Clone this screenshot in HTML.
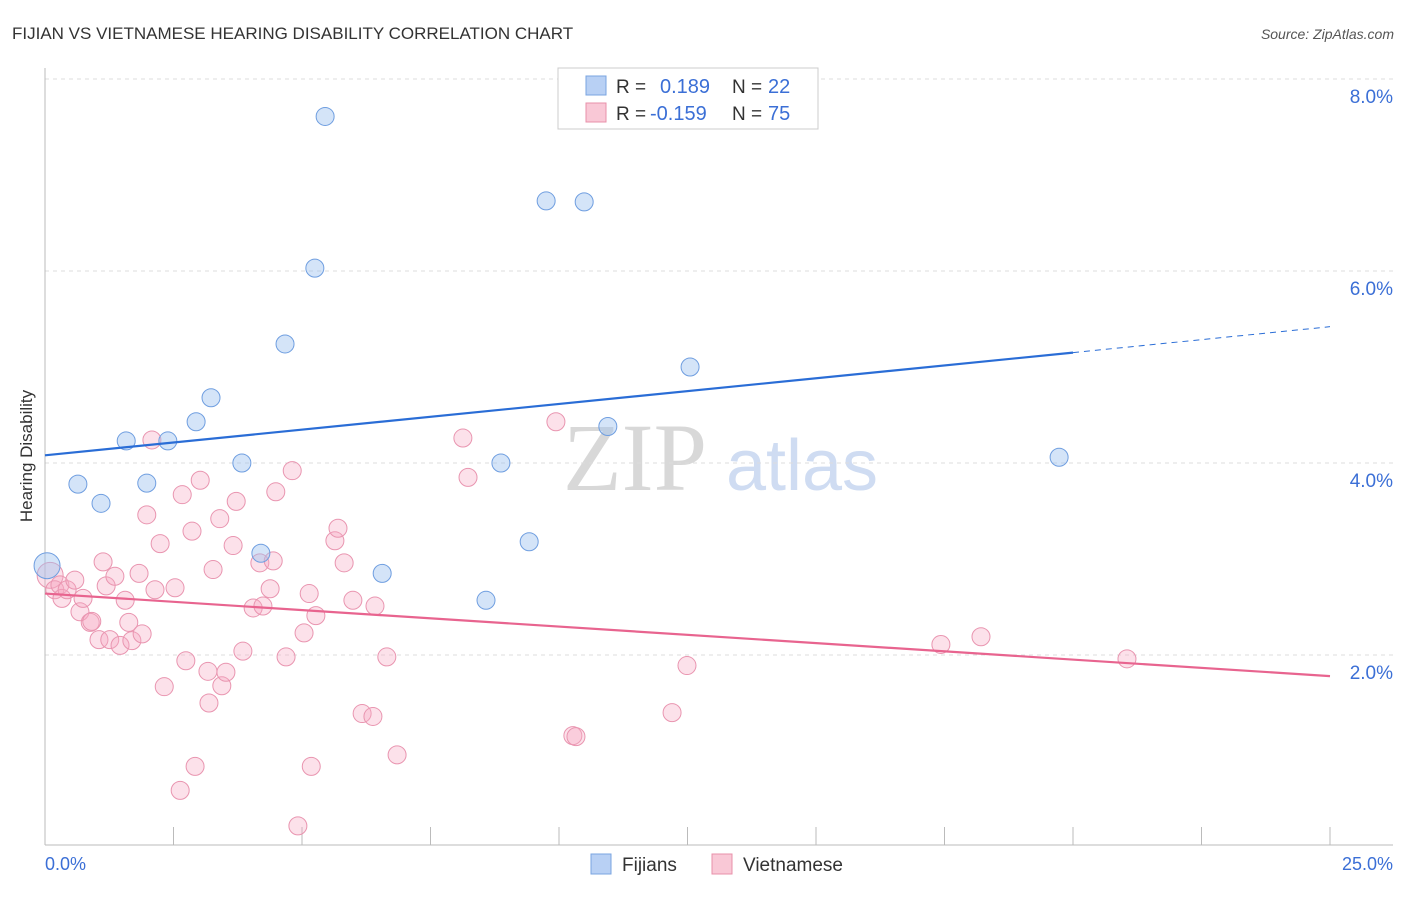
<!DOCTYPE html>
<html><head><meta charset="utf-8"><style>
body{margin:0;background:#fff;font-family:"Liberation Sans",sans-serif}
</style></head><body>
<svg id="chart" width="1406" height="892" font-family="Liberation Sans, sans-serif">
<text x="12" y="39" font-size="17" fill="#333">FIJIAN VS VIETNAMESE HEARING DISABILITY CORRELATION CHART</text>
<text x="1394" y="39" font-size="14" fill="#555" font-style="italic" text-anchor="end">Source: ZipAtlas.com</text>
<g>
<text x="635" y="490" font-size="96" style="font-family:'Liberation Serif',serif" fill="#d8d8d8" text-anchor="middle">ZIP</text>
<text x="802" y="490" font-size="72" fill="#cfdcf2" text-anchor="middle">atlas</text>
</g>
<g id="grid"></g>
<line x1="45" y1="68" x2="45" y2="845" stroke="#bbb"/>
<line x1="45" y1="845" x2="1393" y2="845" stroke="#bbb"/>
<g id="xticks"></g>
<text x="32" y="456" font-size="17" fill="#333" text-anchor="middle" transform="rotate(-90 32 456)">Hearing Disability</text>
<text x="45" y="870" font-size="18" fill="#3b6fd6">0.0%</text>
<text x="1393" y="870" font-size="18" fill="#3b6fd6" text-anchor="end">25.0%</text>
<g id="pink"></g><g id="blue"></g><g id="lines"></g>
<g>
<rect x="558" y="68" width="260" height="61" fill="#fff" stroke="#ccc"/>
<rect x="586" y="76" width="20" height="19" fill="#b8d0f4" stroke="#7aa4e0"/>
<rect x="586" y="103" width="20" height="19" fill="#f9c8d6" stroke="#e890aa"/>
<text x="616" y="93" font-size="19" fill="#333">R = </text><text x="660" y="93" font-size="20" fill="#3b6fd6">0.189</text>
<text x="732" y="93" font-size="19" fill="#333">N = </text><text x="768" y="93" font-size="20" fill="#3b6fd6">22</text>
<text x="616" y="120" font-size="19" fill="#333">R = </text><text x="650" y="120" font-size="20" fill="#3b6fd6">-0.159</text>
<text x="732" y="120" font-size="19" fill="#333">N = </text><text x="768" y="120" font-size="20" fill="#3b6fd6">75</text>
</g>
<g>
<rect x="591" y="854" width="20" height="20" fill="#b8d0f4" stroke="#7aa4e0"/>
<text x="622" y="871" font-size="19" fill="#333">Fijians</text>
<rect x="712" y="854" width="20" height="20" fill="#f9c8d6" stroke="#e890aa"/>
<text x="743" y="871" font-size="19" fill="#333">Vietnamese</text>
</g>
</svg>
<script>
const yTicks=[2,4,6,8];
const blueX=[0.04,0.64,1.09,1.58,1.98,2.39,2.94,3.23,3.83,4.2,4.67,5.25,5.45,6.56,8.58,8.87,9.42,9.75,10.49,10.95,12.55,19.73];
const blueY=[2.93,3.78,3.58,4.23,3.79,4.23,4.43,4.68,4.0,3.06,5.24,6.03,7.61,2.85,2.57,4.0,3.18,6.73,6.72,4.38,5.0,4.06];
const pinkX=[0.1,0.19,0.29,0.33,0.43,0.58,0.68,0.74,0.88,0.91,1.05,1.13,1.19,1.26,1.36,1.46,1.56,1.63,1.69,1.83,1.89,1.98,2.08,2.14,2.24,2.32,2.53,2.67,2.74,2.86,2.92,3.02,3.17,3.19,3.27,3.40,3.44,3.52,3.66,3.72,3.85,4.05,4.18,4.24,4.38,4.44,4.49,4.69,4.81,4.92,5.04,5.14,5.18,5.27,5.64,5.70,5.82,5.99,6.17,6.38,6.42,6.65,6.85,8.13,8.23,9.94,10.27,10.33,12.2,12.49,17.43,18.21,21.05,2.63];
const pinkY=[2.83,2.68,2.73,2.59,2.68,2.78,2.45,2.59,2.34,2.35,2.16,2.97,2.72,2.16,2.82,2.10,2.57,2.34,2.15,2.85,2.22,3.46,4.24,2.68,3.16,1.67,2.70,3.67,1.94,3.29,0.84,3.82,1.83,1.50,2.89,3.42,1.68,1.82,3.14,3.60,2.04,2.49,2.96,2.51,2.69,2.98,3.70,1.98,3.92,0.22,2.23,2.64,0.84,2.41,3.19,3.32,2.96,2.57,1.39,1.36,2.51,1.98,0.96,4.26,3.85,4.43,1.16,1.15,1.40,1.89,2.11,2.19,1.96,0.59];
const blueLine=[4.08,5.15,5.42]; // at x=0, 20, 25
const pinkLine=[2.64,1.78];      // at x=0, 25
const X=v=>45+v*51.4, Y=v=>847-v*96;
const NS='http://www.w3.org/2000/svg';
function mk(t,a,p){const e=document.createElementNS(NS,t);for(const k in a)e.setAttribute(k,a[k]);document.getElementById(p).appendChild(e);return e;}
yTicks.forEach(t=>{
 const l=mk('line',{x1:45,x2:1393,y1:Y(t),y2:Y(t),stroke:'#ddd','stroke-dasharray':'4 4'},'grid');
 
 
 const tx=mk('text',{x:1393,y:Y(t)+24,'font-size':19,fill:'#3b6fd6','text-anchor':'end'},'grid');
 tx.textContent=t.toFixed(1)+'%';
 
 
});
for(let i=0;i<=10;i++){
 const l=mk('line',{x1:X(i*2.5),x2:X(i*2.5),y1:827,y2:845,stroke:'#bbb'},'xticks');
 
 
}
pinkX.forEach((x,i)=>{
 const c=mk('circle',{cx:X(x),cy:Y(pinkY[i]),r:i==0?13:9,fill:'rgba(246,170,195,0.35)',stroke:'#e995b0','stroke-width':1},'pink');
 
 
});
blueX.forEach((x,i)=>{
 const c=mk('circle',{cx:X(x),cy:Y(blueY[i]),r:i==0?13:9,fill:'rgba(160,195,240,0.45)',stroke:'#6f9ee0','stroke-width':1},'blue');
 
 
});
let b1=mk('line',{x1:X(0),y1:Y(blueLine[0]),x2:X(20),y2:Y(blueLine[1]),stroke:'#2a6dd6','stroke-width':2.2},'lines');


let b2=mk('line',{x1:X(20),y1:Y(blueLine[1]),x2:X(25),y2:Y(blueLine[2]),stroke:'#2a6dd6','stroke-width':1,'stroke-dasharray':'6 5'},'lines');


let p1=mk('line',{x1:X(0),y1:Y(pinkLine[0]),x2:X(25),y2:Y(pinkLine[1]),stroke:'#e8648f','stroke-width':2.2},'lines');


</script>
</body></html>
